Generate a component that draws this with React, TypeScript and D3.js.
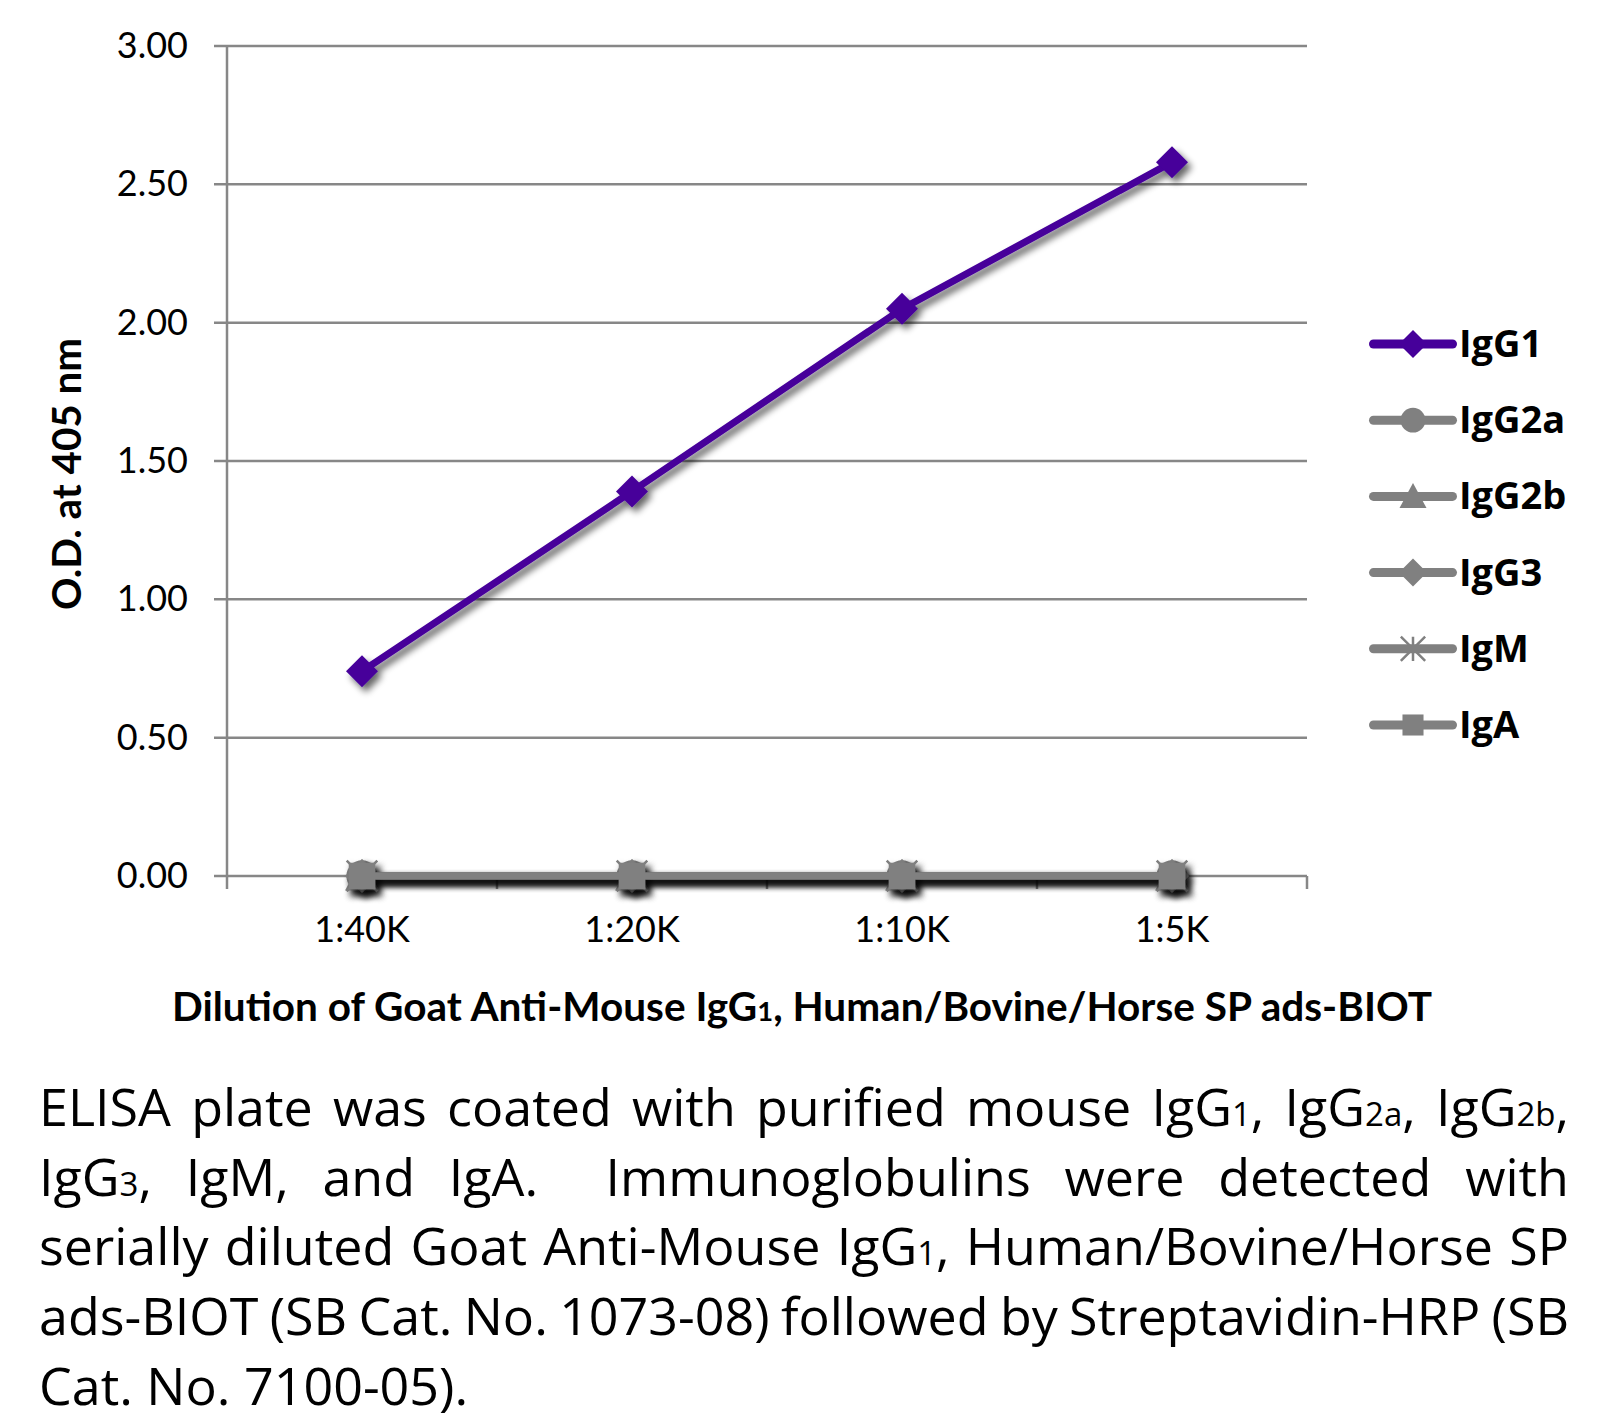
import React, { useMemo } from 'react';
import * as d3 from 'd3';

// ---------- data ----------
const categories = ['1:40K', '1:20K', '1:10K', '1:5K'];
const seriesNames = ['IgG1', 'IgG2a', 'IgG2b', 'IgG3', 'IgM', 'IgA'];
const igG1Values = [0.74, 1.39, 2.05, 2.58];
const igG2aValues = [0.0, 0.0, 0.0, 0.0];
const igG2bValues = [0.0, 0.0, 0.0, 0.0];
const igG3Values = [0.0, 0.0, 0.0, 0.0];
const igMValues = [0.0, 0.0, 0.0, 0.0];
const igAValues = [0.0, 0.0, 0.0, 0.0];
const yTicks = [0, 0.5, 1, 1.5, 2, 2.5, 3];
const markerShapes = ['diamond', 'circle', 'triangle', 'diamond', 'star', 'square'];
const seriesColors = ['#46009a', '#808080', '#808080', '#808080', '#808080', '#808080'];

const yTitle = 'O.D. at 405 nm';
const xTitleParts = ['Dilution of Goat Anti-Mouse IgG', '1', ', Human/Bovine/Horse SP ads-BIOT'];
const captionLines = [
  'ELISA plate was coated with purified mouse IgG{1}, IgG{2a}, IgG{2b},',
  'IgG{3}, IgM, and IgA.  Immunoglobulins were detected with',
  'serially diluted Goat Anti-Mouse IgG{1}, Human/Bovine/Horse SP',
  'ads-BIOT (SB Cat. No. 1073-08) followed by Streptavidin-HRP (SB',
  'Cat. No. 7100-05).',
];

const allValues = [igG1Values, igG2aValues, igG2bValues, igG3Values, igMValues, igAValues];

// ---------- layout ----------
const W = 1616;
const H = 1422;
const PLOT_L = 227;
const PLOT_R = 1307;
const PLOT_T = 46;
const PLOT_B = 876;
const FONT = 'Lato, "Open Sans", "Noto Sans", sans-serif';
const CAP_FONT = '"Open Sans"';
const AXIS_COLOR = '#878787';

const CAP_FS = 52;
const CAP_SUB_FS = 33;
const CAP_L = 39;
const CAP_R = 1569;
const CAP_Y0 = 1126;
const CAP_DY = 69.7;

function markerPath(shape: string, s: number): string {
  const p = d3.path();
  if (shape === 'diamond') {
    p.moveTo(0, -s); p.lineTo(s, 0); p.lineTo(0, s); p.lineTo(-s, 0); p.closePath();
  } else if (shape === 'circle') {
    p.arc(0, 0, s * 0.92, 0, Math.PI * 2);
  } else if (shape === 'triangle') {
    p.moveTo(0, -s); p.lineTo(s, s * 0.85); p.lineTo(-s, s * 0.85); p.closePath();
  } else if (shape === 'square') {
    const h = s * 0.78;
    p.rect(-h, -h, 2 * h, 2 * h);
  } else if (shape === 'star') {
    const r = s * 0.9;
    p.moveTo(-r, -r); p.lineTo(r, r);
    p.moveTo(r, -r); p.lineTo(-r, r);
    p.moveTo(0, -r); p.lineTo(0, r);
  }
  return p.toString();
}

function Marker({ shape, size, color, x, y }: any) {
  const d = markerPath(shape, size);
  if (shape === 'star') {
    return <path d={d} transform={`translate(${x},${y})`} fill="none" stroke={color} strokeWidth={2.5} />;
  }
  return <path d={d} transform={`translate(${x},${y})`} fill={color} />;
}

type Seg = { t: string; sub: boolean };
function parseWord(w: string): Seg[] {
  const segs: Seg[] = [];
  const re = /\{(.*?)\}/g;
  let last = 0;
  let m: RegExpExecArray | null;
  while ((m = re.exec(w))) {
    if (m.index > last) segs.push({ t: w.slice(last, m.index), sub: false });
    segs.push({ t: m[1], sub: true });
    last = m.index + m[0].length;
  }
  if (last < w.length) segs.push({ t: w.slice(last), sub: false });
  return segs;
}

function useCaptionLayout() {
  return useMemo(() => {
    const canvas = document.createElement('canvas');
    const ctx = canvas.getContext('2d')!;
    const measure = (t: string, fs: number) => {
      ctx.font = `${fs}px ${CAP_FONT}`;
      return ctx.measureText(t).width;
    };
    const spaceW = measure(' ', CAP_FS);
    return captionLines.map((line, li) => {
      const tokens = line.split(' ');
      const words = tokens.map((tok) => {
        const segs = parseWord(tok);
        const w = segs.reduce((a, s) => a + measure(s.t, s.sub ? CAP_SUB_FS : CAP_FS), 0);
        return { segs, w };
      });
      const justify = li < captionLines.length - 1;
      const total = words.reduce((a, w) => a + w.w, 0);
      const n = tokens.length;
      let gap = spaceW;
      let scale = 1;
      if (justify && n > 1) {
        gap = (CAP_R - CAP_L - total) / (n - 1);
        const minGap = CAP_FS * 0.16;
        if (gap < minGap) {
          gap = minGap;
          scale = (CAP_R - CAP_L - minGap * (n - 1)) / total;
        }
      }
      let x = CAP_L;
      const placed = words.map((w) => {
        const item = { ...w, x, len: w.w * scale, scale };
        x += w.w * scale + gap;
        return item;
      });
      return placed.filter((p) => p.segs.length > 0);
    });
  }, []);
}

export default function App() {
  const x = d3.scaleBand<string>().domain(categories).range([PLOT_L, PLOT_R]).padding(0);
  const y = d3.scaleLinear().domain([0, 3]).range([PLOT_B, PLOT_T]);
  const cx = (c: string) => (x(c) as number) + x.bandwidth() / 2;
  const line = d3
    .line<number>()
    .x((_, i) => cx(categories[i]))
    .y((v) => y(v));

  const boundaries = [...categories.map((c) => x(c) as number), PLOT_R];
  const caption = useCaptionLayout();

  const legendY0 = 344;
  const legendDY = 76.2;

  return (
    <svg
      width={W}
      height={H}
      style={{ position: 'absolute', left: 0, top: 0, display: 'block', background: '#fff' }}
      fontFamily={FONT}
    >
      <defs>
        <filter id="shadow" x="-20%" y="-30%" width="140%" height="180%">
          <feGaussianBlur in="SourceAlpha" stdDeviation="3.5" />
          <feOffset dx="4" dy="5" result="ob" />
          <feComponentTransfer>
            <feFuncA type="linear" slope="0.6" />
          </feComponentTransfer>
          <feMerge>
            <feMergeNode />
            <feMergeNode in="SourceGraphic" />
          </feMerge>
        </filter>
      </defs>
      <rect x={0} y={0} width={W} height={H} fill="#fff" />

      {/* gridlines + y ticks */}
      {yTicks.map((t) => (
        <g key={t}>
          <line x1={PLOT_L - 13} x2={PLOT_R} y1={y(t)} y2={y(t)} stroke={AXIS_COLOR} strokeWidth={2.5} />
          <text x={188} y={y(t) + 12} textAnchor="end" fontSize={36} fill="#000">
            {t.toFixed(2)}
          </text>
        </g>
      ))}
      <line x1={PLOT_L} x2={PLOT_L} y1={PLOT_T} y2={PLOT_B} stroke={AXIS_COLOR} strokeWidth={2.5} />
      {boundaries.map((b, i) => (
        <line key={i} x1={b} x2={b} y1={PLOT_B} y2={PLOT_B + 13} stroke={AXIS_COLOR} strokeWidth={2.5} />
      ))}
      {categories.map((c) => (
        <text key={c} x={cx(c)} y={942} textAnchor="middle" fontSize={36} fill="#000">
          {c}
        </text>
      ))}

      {/* series */}
      {allValues.map((vals, si) => (
        <g key={seriesNames[si]} filter="url(#shadow)">
          <path
            d={line(vals) as string}
            fill="none"
            stroke={seriesColors[si]}
            strokeWidth={7}
            strokeLinejoin="round"
            strokeLinecap="round"
          />
          {vals.map((v, i) => (
            <Marker
              key={i}
              shape={markerShapes[si]}
              size={si === 0 ? 16 : 17}
              color={seriesColors[si]}
              x={cx(categories[i])}
              y={y(v)}
            />
          ))}
        </g>
      ))}

      {/* legend */}
      {seriesNames.map((n, i) => {
        const ly = legendY0 + i * legendDY;
        return (
          <g key={n}>
            <line x1={1373.5} x2={1452.5} y1={ly} y2={ly} stroke={seriesColors[i]} strokeWidth={9} strokeLinecap="round" />
            <Marker shape={markerShapes[i]} size={markerShapes[i] === 'diamond' ? 14 : 13.5} color={seriesColors[i]} x={1413} y={ly} />
            <text x={1459} y={ly + 13} fontSize={38} fontWeight={700} fill="#000" fontFamily='"Open Sans"'>
              {n}
            </text>
          </g>
        );
      })}

      {/* axis titles */}
      <text
        transform={`translate(81,474) rotate(-90)`}
        textAnchor="middle"
        fontSize={40}
        fontWeight={700}
        fill="#000"
        textLength={272}
        lengthAdjust="spacingAndGlyphs"
      >
        {yTitle}
      </text>
      <text x={172} y={1021} fontSize={40} fontWeight={700} fill="#000" textLength={1260} lengthAdjust="spacingAndGlyphs">
        {xTitleParts[0]}
        <tspan fontSize={27}>{xTitleParts[1]}</tspan>
        {xTitleParts[2]}
      </text>

      {/* caption */}
      {caption.map((words, li) => (
        <g key={li}>
          {words.map((w, wi) => (
            <text
              key={wi}
              x={w.x}
              y={CAP_Y0 + li * CAP_DY}
              fontSize={CAP_FS}
              fontFamily={CAP_FONT}
              fill="#000"
              {...(w.scale < 1 ? { textLength: w.len, lengthAdjust: 'spacingAndGlyphs' } : {})}
            >
              {w.segs.map((s, si) => (
                <tspan key={si} fontSize={s.sub ? CAP_SUB_FS : CAP_FS}>
                  {s.t}
                </tspan>
              ))}
            </text>
          ))}
        </g>
      ))}
    </svg>
  );
}
